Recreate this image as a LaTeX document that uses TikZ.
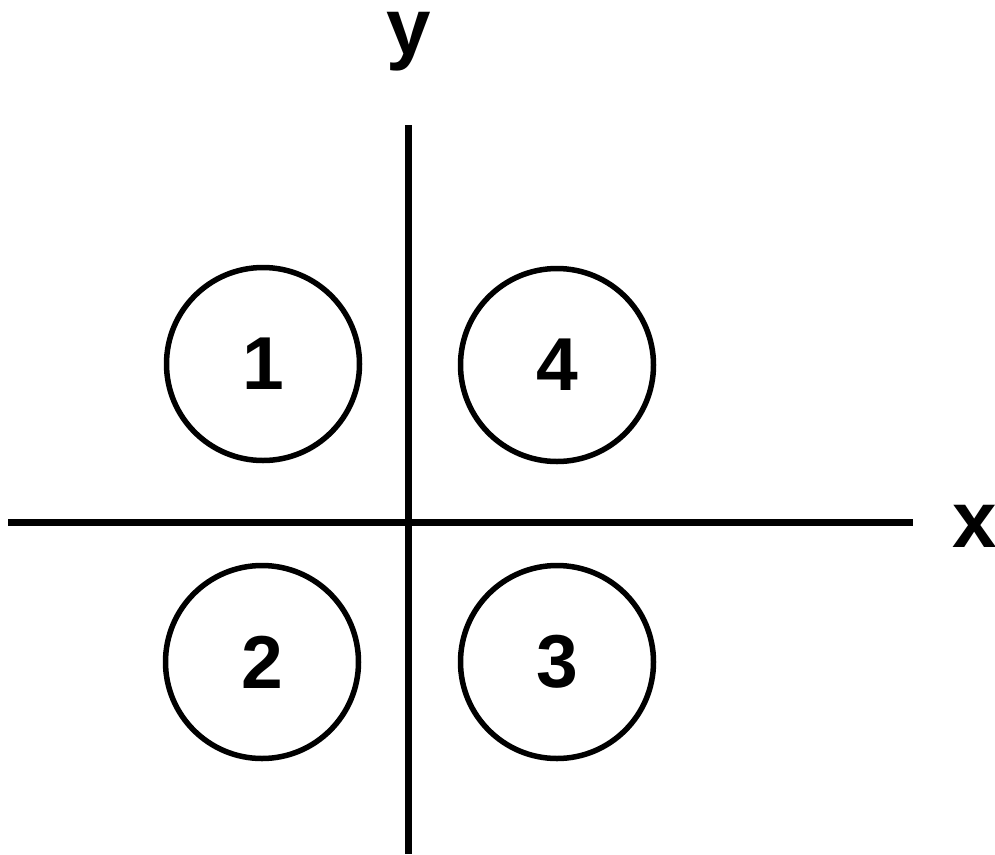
\documentclass[tikz,border=0pt]{standalone}
\usepackage{fontspec}
\setmainfont{Liberation Sans}
\begin{document}
\begin{tikzpicture}[x=1pt,y=-1pt,
  axis/.style={line width=7pt},
  disc/.style={circle,draw,line width=5.5pt,minimum size=193pt,inner sep=0pt,
    font=\fontsize{75}{80}\selectfont\bfseries},
  lbl/.style={font=\fontsize{80}{86}\selectfont\bfseries,inner sep=0pt,anchor=base}]
\useasboundingbox (0,0) rectangle (995,854);
\coordinate (ytop) at (408,125);
\coordinate (ybot) at (408,854);
\coordinate (xl) at (8,522);
\coordinate (xr) at (913,522);
\draw[axis] (ytop) -- (ybot);
\draw[axis] (xl) -- (xr);
\node[lbl] (ylab) at (409,54) {y};
\node[lbl] (xlab) at (975,547) {x};
\node[disc] (c1) at (263,364) {1};
\node[disc] (c4) at (557,365) {4};
\node[disc] (c2) at (262,662) {2};
\node[disc] (c3) at (557,662) {3};
\end{tikzpicture}
\end{document}
